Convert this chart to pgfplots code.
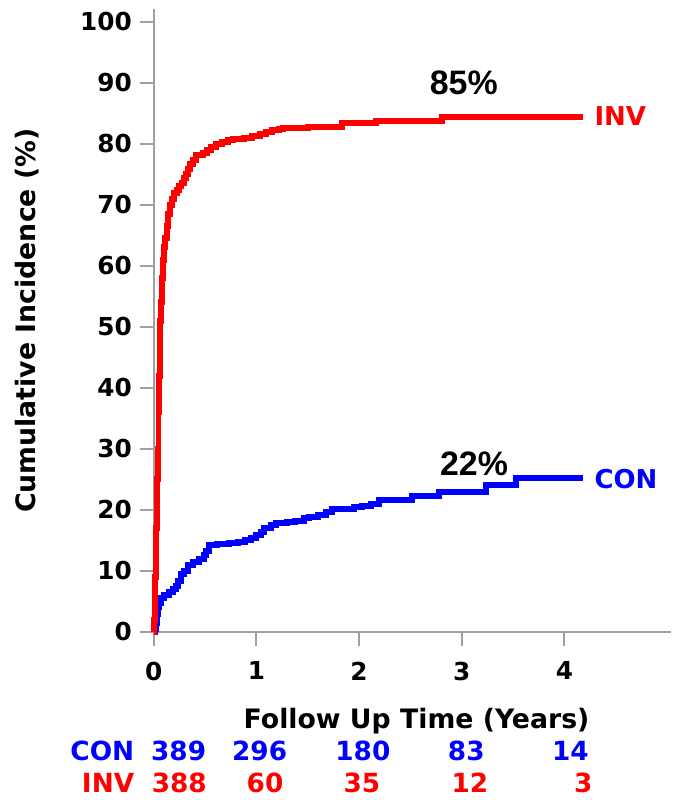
\documentclass[border=0pt]{standalone}
\usepackage{fontspec}
\setmainfont{DejaVu Sans}
\newfontfamily\arialf{Liberation Sans}
\usepackage{pgfplots}
\pgfplotsset{compat=1.18}
\definecolor{axgray}{RGB}{160,160,160}
\definecolor{cred}{RGB}{255,0,0}
\definecolor{cblue}{RGB}{0,0,255}

\pgfplotstableread{
t v
0 0
0.005 2
0.01 5
0.015 9
0.02 13
0.025 17
0.03 21
0.035 25
0.04 30
0.046 36
0.052 42
0.058 47
0.064 51
0.07 54
0.079 58
0.09 61
0.1 63
0.113 64.6
0.125 66.5
0.14 68.5
0.16 70
0.18 71
0.2 72
0.229 72.4
0.25 73
0.27 73.6
0.296 74.3
0.31 75
0.33 75.8
0.35 76.6
0.38 77.4
0.41 78.2
0.48 78.5
0.52 78.9
0.56 79.4
0.61 79.9
0.665 80.3
0.72 80.6
0.77 80.8
0.88 81
0.96 81.3
1.03 81.6
1.09 81.9
1.15 82.2
1.22 82.4
1.26 82.6
1.50 82.7
1.73 82.8
1.83 83.4
2.16 83.8
2.81 84.4
4.18 84.4
}\invdata

\pgfplotstableread{
t v
0 0
0.01 0.5
0.02 1.5
0.03 3
0.04 4
0.05 4.8
0.07 5.5
0.10 6
0.15 6.5
0.19 7
0.215 7.6
0.24 8.3
0.265 9.5
0.29 10
0.33 10.9
0.38 11.4
0.44 12
0.49 12.6
0.51 13.3
0.54 14.3
0.62 14.4
0.73 14.6
0.82 14.8
0.89 15.0
0.95 15.4
1.00 15.9
1.04 16.4
1.07 17.1
1.14 17.5
1.19 17.9
1.30 18.0
1.38 18.2
1.46 18.6
1.51 18.9
1.60 19.2
1.68 19.7
1.74 20.1
1.95 20.4
2.03 20.7
2.12 21.0
2.19 21.6
2.52 22.3
2.78 22.9
3.24 24.0
3.53 25.2
4.18 25.2
}\condata

\begin{document}
\begin{tikzpicture}
\begin{axis}[
  scale only axis, width=259.35pt, height=312pt,
  xmin=0, xmax=5.04, ymin=0, ymax=102,
  axis x line=bottom, axis y line=left,
  axis line style={-, draw=axgray, line width=1pt},
  xtick={0,1,2,3,4}, ytick={0,10,...,100},
  tick align=outside, major tick length=7pt,
  tick style={draw=axgray, line width=1pt},
  minor tick num=0,
  /pgf/number format/assume math mode=true,
  tick label style={font=\fontsize{12.4}{14}\selectfont\bfseries},
  xticklabel style={yshift=-4.5pt},
  yticklabel style={xshift=-0.5pt},
  clip=false,
]
% bounding frame matching reference proportions
\path (axis cs:-1.498,103.55) rectangle (axis cs:5.036,-27.4);

\addplot[const plot, draw=cblue, line width=3pt] table[x=t,y=v] {\condata};
\addplot[const plot, draw=cred, line width=3pt] table[x=t,y=v] {\invdata};

\node[anchor=west, inner sep=0pt, text=cred, font=\fontsize{13}{15}\selectfont\bfseries] at (axis cs:4.29,84.6) {INV};
\node[anchor=west, inner sep=0pt, text=cblue, font=\fontsize{13}{15}\selectfont\bfseries] at (axis cs:4.29,25.0) {CON};
\node[anchor=base, font=\arialf\fontsize{17}{19}\selectfont\bfseries] at (axis cs:3.02,88.0) {85\%};
\node[anchor=base, font=\arialf\fontsize{17}{19}\selectfont\bfseries] at (axis cs:3.12,25.7) {22\%};

\node[rotate=90, font=\fontsize{13.4}{15}\selectfont\bfseries] at (axis cs:-1.231,51) {Cumulative Incidence (\%)};
\node[anchor=base, font=\fontsize{13.4}{15}\selectfont\bfseries] at (axis cs:2.56,-15.81) {Follow Up Time (Years)};

\node[anchor=base east, inner sep=0pt, text=cblue, font=\fontsize{13.2}{15}\selectfont\bfseries] at (axis cs:-0.187,-21.04) {CON};
\node[anchor=base east, inner sep=0pt, text=cred, font=\fontsize{13.2}{15}\selectfont\bfseries] at (axis cs:-0.187,-26.4) {INV};

\begin{scope}[every node/.style={anchor=base, text=cblue, font=\fontsize{13.2}{15}\selectfont\bfseries}]
\node at (axis cs:0.242,-21.04) {389};
\node at (axis cs:1.031,-21.04) {296};
\node at (axis cs:2.037,-21.04) {180};
\node at (axis cs:3.044,-21.04) {83};
\node at (axis cs:4.058,-21.04) {14};
\end{scope}
\begin{scope}[every node/.style={anchor=base, text=cred, font=\fontsize{13.2}{15}\selectfont\bfseries}]
\node at (axis cs:0.248,-26.4) {388};
\node at (axis cs:1.084,-26.4) {60};
\node at (axis cs:2.028,-26.4) {35};
\node at (axis cs:3.079,-26.4) {12};
\node at (axis cs:4.183,-26.4) {3};
\end{scope}
\end{axis}
\end{tikzpicture}
\end{document}
